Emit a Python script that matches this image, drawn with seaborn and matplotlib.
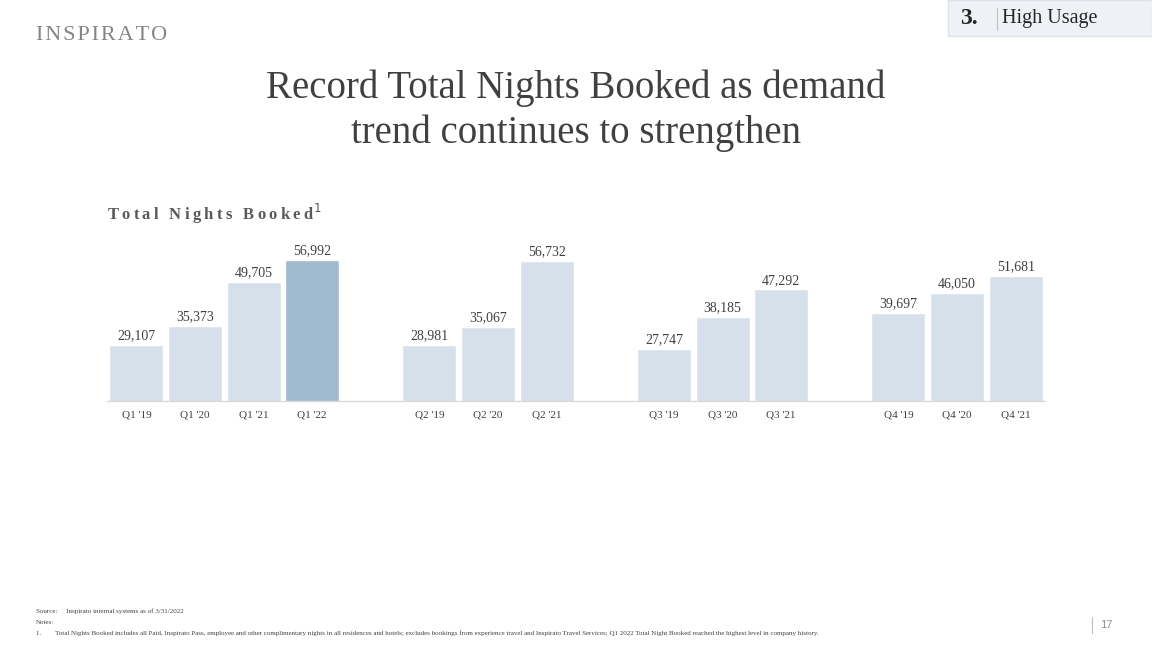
import pandas as pd
import seaborn as sns
import matplotlib.pyplot as plt

# data
quarters = ['Q1', 'Q2', 'Q3', 'Q4']
years = {
    'Q1': ["'19", "'20", "'21", "'22"],
    'Q2': ["'19", "'20", "'21"],
    'Q3': ["'19", "'20", "'21"],
    'Q4': ["'19", "'20", "'21"],
}
nights = {
    'Q1': [29107, 35373, 49705, 56992],
    'Q2': [28981, 35067, 56732],
    'Q3': [27747, 38185, 47292],
    'Q4': [39697, 46050, 51681],
}
highlight = "Q1 '22"

light = '#D6E0EA'
dark = '#A1BACF'
text_col = '#404040'

rows = []
order = []
for i, q in enumerate(quarters):
    for y, v in zip(years[q], nights[q]):
        lab = f"{q} {y}"
        rows.append({'period': lab, 'nights': v})
        order.append(lab)
    if i < len(quarters) - 1:
        order.append(' ' * (i + 1))  # empty slot between quarter groups
df = pd.DataFrame(rows)
palette = {p: (dark if p == highlight else light) for p in df['period']}

sns.set_style('white')
plt.rcParams['font.family'] = ['Liberation Serif', 'DejaVu Serif']

fig = plt.figure(figsize=(11.52, 6.48), dpi=100)
ax = fig.add_axes([107 / 1152, 1 - 401 / 648, 938 / 1152, 151 / 648])

sns.barplot(data=df, x='period', y='nights', hue='period', order=order,
            palette=palette, width=0.92, legend=False, saturation=1, ax=ax)

for c in ax.containers:
    ax.bar_label(c, fmt='{:,.0f}', padding=2, fontsize=10, color=text_col)

# the slide's value axis does not start at zero
ax.set_xlim(-0.5, len(order) - 0.5)
ax.set_ylim(10700, 60250)
ax.set_xlabel('')
ax.set_ylabel('')
ax.set_yticks([])
for s in ['top', 'left', 'right']:
    ax.spines[s].set_visible(False)
ax.spines['bottom'].set_color('#D9D9D9')
ax.spines['bottom'].set_linewidth(1)
ax.tick_params(axis='x', length=0, pad=7, labelsize=8, labelcolor=text_col)

# titles
fig.text(0.5, 1 - 88 / 648, 'Record Total Nights Booked as demand', ha='center', va='center',
         fontsize=28, color=text_col)
fig.text(0.5, 1 - 133 / 648, 'trend continues to strengthen', ha='center', va='center',
         fontsize=28, color=text_col)

sub = '\u2009'.join('Total Nights Booked')
fig.text(107 / 1152, 1 - 214 / 648, sub + '$^1$', ha='left', va='center', fontsize=12,
         fontweight='bold', color='#595959')

# logo
fig.text(36 / 1152, 1 - 36 / 648, '\u200a'.join('INSPIRATO'), ha='left', va='center',
         fontsize=16, color='#858585', fontweight='light')

# section tag top right
fig.patches.append(plt.Rectangle((948 / 1152, 1 - 36 / 648), 204 / 1152, 36 / 648,
                                 transform=fig.transFigure, facecolor='#EEF2F6',
                                 edgecolor='#DDE3EA', lw=1))
fig.text(960 / 1152, 1 - 18 / 648, '3.', ha='left', va='center', fontsize=17,
         fontweight='bold', color='#262626')
fig.add_artist(plt.Line2D([997 / 1152] * 2, [1 - 8 / 648, 1 - 30 / 648],
                          transform=fig.transFigure, color='#BFBFBF', lw=0.8))
fig.text(1002 / 1152, 1 - 19 / 648, 'High Usage', ha='left', va='center', fontsize=14.5,
         color='#262626')

# footnotes
fig.text(36 / 1152, 1 - 611 / 648, 'Source:     Inspirato internal systems as of 3/31/2022',
         fontsize=5, color=text_col, va='center')
fig.text(36 / 1152, 1 - 622 / 648, 'Notes:', fontsize=5, color=text_col, va='center')
fig.text(36 / 1152, 1 - 633 / 648,
         '1.        Total Nights Booked includes all Paid, Inspirato Pass, employee and other '
         'complimentary nights in all residences and hotels; excludes bookings from experience '
         'travel and Inspirato Travel Services; Q1 2022 Total Night Booked reached the highest '
         'level in company history.', fontsize=5, color=text_col, va='center')

# page number
fig.add_artist(plt.Line2D([1092 / 1152] * 2, [1 - 617 / 648, 1 - 633 / 648],
                          transform=fig.transFigure, color='#BFBFBF', lw=0.8))
fig.text(1100 / 1152, 1 - 625 / 648, '17', fontsize=8, color='#8C8C8C', va='center',
         family=['Liberation Sans', 'DejaVu Sans'])

plt.savefig('out.png', dpi=100)
